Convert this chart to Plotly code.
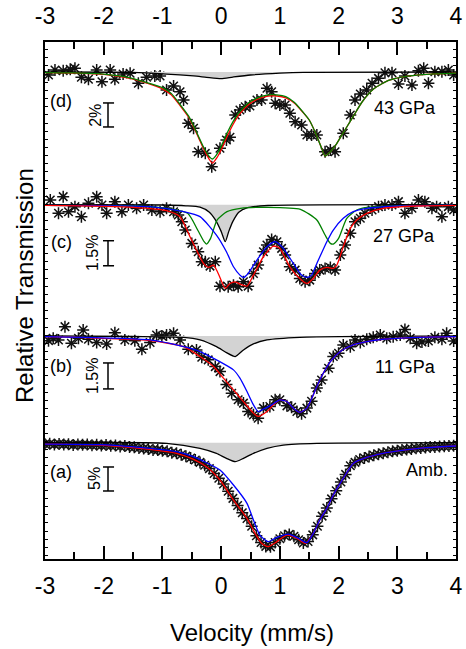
import plotly.graph_objects as go

# ---------------- tick labels ----------------
tick_vals = [-3, -2, -1, 0, 1, 2, 3, 4]
tick_text = ["-3", "-2", "-1", "0", "1", "2", "3", "4"]

# ---------------- panel (d) 43 GPa ----------------
d_pts_v = [-2.94, -2.83, -2.69, -2.57, -2.49, -2.38, -2.26, -2.12, -2.03, -1.89, -1.81, -1.67, -1.55, -1.41,
           -1.27, -1.13, -1.04, -0.93, -0.81, -0.70, -0.64, -0.56, -0.47, -0.39, -0.27, -0.16, -0.02, 0.09,
           0.15, 0.24, 0.32, 0.41, 0.49, 0.61, 0.69, 0.78, 0.86, 0.92, 1.00, 1.09, 1.17, 1.26, 1.37, 1.46,
           1.54, 1.63, 1.77, 1.86, 1.94, 2.08, 2.20, 2.28, 2.37, 2.48, 2.57, 2.68, 2.79, 2.91, 3.02, 3.13,
           3.25, 3.36, 3.45, 3.53, 3.64, 3.76, 3.87, 3.96]
d_pts_t = [99.75, 100.17, 100.11, 100.22, 100.31, 99.56, 99.39, 100.17, 99.19, 100.17, 99.39, 99.83, 99.89,
           99.06, 99.56, 99.67, 99.67, 98.5, 98.83, 98.36, 97.67, 95.72, 95.31, 93.36, 93.22, 92.11, 93.64,
           94.33, 94.56, 96.42, 96.83, 97.11, 97.17, 97.67, 97.67, 98.64, 98.36, 97.39, 97.25, 97.25, 96.56,
           95.86, 95.58, 94.75, 94.75, 94.75, 93.36, 93.5, 93.36, 94.89, 96.42, 97.67, 98.17, 98.5, 99.06,
           99.47, 99.94, 99.94, 99.0, 99.67, 98.92, 100.11, 100.31, 99.06, 100.03, 100.03, 100.17, 99.75]
d_fit_v = [-3.0, -2.5, -2.0, -1.7, -1.5, -1.25, -1.0, -0.85, -0.7, -0.55, -0.4, -0.3, -0.2, -0.15, -0.08,
           0.0, 0.1, 0.2, 0.3, 0.45, 0.6, 0.8, 0.95, 1.1, 1.25, 1.4, 1.5, 1.6, 1.7, 1.77, 1.85, 1.95, 2.05,
           2.15, 2.25, 2.4, 2.6, 2.85, 3.1, 3.5, 4.0]
d_red = [99.94, 99.9, 99.8, 99.6, 99.4, 99.05, 98.6, 98.1, 97.2, 96.2, 94.7, 93.6, 92.7, 92.4, 92.8,
         93.5, 94.6, 95.6, 96.4, 97.2, 97.7, 98.0, 98.0, 97.85, 97.4, 96.6, 96.0, 95.0, 93.8, 93.0, 93.3,
         93.9, 94.7, 95.5, 96.3, 97.5, 98.6, 99.3, 99.6, 99.8, 99.9]
d_green = [99.95, 99.92, 99.83, 99.65, 99.45, 99.1, 98.7, 98.22, 97.3, 96.3, 94.8, 93.75, 92.95, 92.75,
           93.1, 93.8, 94.9, 95.85, 96.6, 97.35, 97.8, 98.1, 98.1, 97.95, 97.45, 96.62, 96.0, 95.0, 93.8,
           93.0, 93.3, 93.9, 94.7, 95.5, 96.3, 97.5, 98.6, 99.3, 99.6, 99.8, 99.9]
d_sub_v = [-3.0, -1.5, -0.93, -0.47, -0.25, 0.0, 0.2, 0.5, 1.0, 1.4, 4.0]
d_sub = [100.0, 99.97, 99.83, 99.67, 99.56, 99.45, 99.58, 99.75, 99.9, 99.97, 100.0]

# ---------------- panel (c) 27 GPa ----------------
c_pts_v = [-2.91, -2.77, -2.69, -2.60, -2.49, -2.38, -2.26, -2.12, -2.03, -1.95, -1.81, -1.69, -1.58, -1.44,
           -1.32, -1.18, -1.04, -0.93, -0.81, -0.73, -0.67, -0.61, -0.50, -0.39, -0.33, -0.27, -0.19, -0.10,
           -0.02, 0.12, 0.21, 0.29, 0.38, 0.46, 0.55, 0.63, 0.72, 0.78, 0.86, 0.95, 1.03, 1.09, 1.17, 1.26,
           1.34, 1.43, 1.51, 1.60, 1.68, 1.77, 1.86, 1.94, 2.03, 2.11, 2.20, 2.28, 2.37, 2.45, 2.57, 2.68,
           2.79, 2.91, 3.02, 3.13, 3.25, 3.36, 3.47, 3.59, 3.67, 3.76, 3.87, 3.96]
c_pts_t = [100.28, 99.48, 100.48, 99.58, 99.88, 99.28, 100.08, 100.48, 99.98, 99.48, 100.18, 99.58, 99.98,
           99.78, 99.98, 99.68, 99.58, 99.78, 99.58, 99.38, 98.98, 98.48, 97.68, 97.18, 96.58, 96.58, 96.32,
           96.58, 95.12, 95.08, 95.18, 95.08, 95.38, 95.12, 95.88, 96.38, 97.18, 97.58, 97.92, 97.78, 97.38,
           96.98, 96.28, 96.08, 95.58, 95.38, 95.48, 95.88, 96.08, 96.18, 96.24, 96.08, 96.98, 97.58, 98.28,
           98.98, 99.18, 99.48, 99.68, 99.88, 99.98, 99.98, 100.18, 99.48, 99.78, 100.28, 100.18, 99.78,
           99.88, 99.28, 99.88, 99.68]
c_red_v = [-3.0, -1.5, -0.93, -0.70, -0.53, -0.42, -0.30, -0.22, -0.13, -0.05, 0.07, 0.15, 0.24, 0.32, 0.44,
           0.55, 0.72, 0.89, 1.00, 1.17, 1.34, 1.46, 1.57, 1.68, 1.80, 1.91, 1.97, 2.08, 2.20, 2.31, 2.48,
           2.76, 3.33, 4.0]
c_red = [99.96, 99.84, 99.64, 99.28, 98.08, 97.28, 96.48, 96.24, 96.38, 95.88, 94.98, 95.28, 95.38, 95.24,
         95.12, 95.78, 96.88, 97.52, 97.38, 96.28, 95.58, 95.28, 95.58, 96.08, 96.24, 96.18, 96.38, 97.48,
         98.58, 99.08, 99.48, 99.78, 99.92, 99.96]
c_green_v = [-3.0, -1.5, -0.93, -0.57, -0.40, -0.29, -0.25, -0.18, -0.07, 0.10, 0.33, 0.78, 1.35, 1.63, 1.77,
             1.86, 1.91, 2.00, 2.14, 2.31, 2.48, 3.0, 4.0]
c_green = [99.96, 99.92, 99.78, 99.48, 98.48, 97.78, 97.64, 97.98, 99.08, 99.58, 99.78, 99.84, 99.72, 99.08,
           98.18, 97.68, 97.64, 97.98, 99.18, 99.68, 99.84, 99.93, 99.97]
c_blue_v = [-3.0, -1.21, -0.64, -0.36, -0.08, 0.09, 0.21, 0.32, 0.38, 0.46, 0.61, 0.78, 0.92, 1.06, 1.23,
            1.37, 1.46, 1.54, 1.63, 1.80, 1.91, 2.08, 2.25, 2.48, 3.05, 4.0]
c_blue = [99.96, 99.88, 99.58, 99.28, 98.18, 97.18, 96.28, 95.78, 95.64, 95.88, 96.68, 97.48, 97.78, 97.38,
          96.48, 95.78, 95.64, 95.78, 96.48, 97.78, 98.48, 99.18, 99.58, 99.78, 99.92, 99.97]
c_sub_v = [-3.0, -1.0, -0.6, -0.36, -0.2, -0.1, 0.0, 0.07, 0.13, 0.2, 0.3, 0.45, 0.8, 4.0]
c_sub = [100.0, 99.98, 99.93, 99.85, 99.55, 99.1, 98.4, 97.78, 98.4, 99.0, 99.55, 99.82, 99.95, 100.0]

# ---------------- panel (b) 11 GPa ----------------
b_pts_v = [-2.94, -2.86, -2.77, -2.66, -2.55, -2.43, -2.35, -2.26, -2.12, -1.95, -1.81, -1.64, -1.47, -1.35,
           -1.21, -1.10, -1.01, -0.93, -0.81, -0.70, -0.56, -0.42, -0.33, -0.22, -0.10, -0.02, 0.09, 0.18,
           0.29, 0.38, 0.46, 0.55, 0.63, 0.72, 0.83, 0.92, 1.00, 1.12, 1.20, 1.29, 1.37, 1.46, 1.54, 1.63,
           1.71, 1.83, 1.91, 2.00, 2.08, 2.20, 2.28, 2.37, 2.48, 2.59, 2.71, 2.82, 2.93, 3.05, 3.13, 3.22,
           3.33, 3.42, 3.53, 3.64, 3.76, 3.84, 3.96]
b_pts_t = [99.73, 99.87, 99.77, 100.54, 99.58, 99.87, 100.35, 99.81, 99.62, 99.54, 100.19, 99.77, 99.73,
           99.23, 99.62, 100.06, 100.0, 100.06, 100.15, 99.77, 99.23, 99.19, 98.77, 98.62, 98.23, 97.94,
           97.19, 96.69, 96.31, 96.12, 95.63, 95.44, 95.25, 95.83, 95.92, 96.31, 96.31, 95.96, 95.88, 95.63,
           95.50, 95.83, 96.23, 97.0, 97.46, 98.13, 98.81, 99.0, 99.48, 99.38, 99.77, 99.62, 99.81, 99.92,
           100.06, 99.87, 99.96, 100.06, 100.38, 99.87, 99.58, 99.65, 99.71, 99.92, 99.81, 100.15, 99.71]
b_red_v = [-3.0, -1.21, -0.64, -0.36, -0.13, 0.04, 0.21, 0.38, 0.55, 0.63, 0.78, 0.89, 1.00, 1.12, 1.23,
           1.34, 1.46, 1.57, 1.68, 1.86, 2.03, 2.25, 2.48, 2.76, 3.33, 4.0]
b_red = [99.96, 99.73, 99.38, 98.81, 98.23, 97.56, 96.88, 96.21, 95.54, 95.35, 95.63, 96.02, 96.31, 96.21,
         95.83, 95.58, 95.83, 96.60, 97.46, 98.52, 99.10, 99.48, 99.67, 99.81, 99.92, 99.96]
b_blue_v = [-3.0, -1.21, -0.64, -0.36, -0.08, 0.21, 0.32, 0.44, 0.55, 0.63, 0.72, 0.86, 1.00, 1.12, 1.23,
            1.34, 1.46, 1.57, 1.68, 1.86, 2.03, 2.25, 2.48, 2.76, 3.33, 4.0]
b_blue = [99.96, 99.77, 99.38, 99.10, 98.62, 98.04, 97.56, 96.79, 96.02, 95.63, 95.77, 96.02, 96.31, 96.21,
          95.83, 95.58, 95.83, 96.60, 97.46, 98.52, 99.10, 99.48, 99.67, 99.81, 99.92, 99.96]
b_sub_v = [-3.0, -1.5, -0.64, -0.36, -0.08, 0.09, 0.24, 0.38, 0.55, 0.78, 1.34, 4.0]
b_sub = [100.0, 99.97, 99.92, 99.77, 99.38, 99.04, 98.81, 99.19, 99.54, 99.77, 99.92, 100.0]

# ---------------- panel (a) ambient ----------------
a_pts_v = [-3.0, -2.92, -2.84, -2.76, -2.68, -2.6, -2.52, -2.44, -2.36, -2.28, -2.2, -2.12, -2.04, -1.96,
           -1.88, -1.8, -1.72, -1.64, -1.56, -1.48, -1.4, -1.32, -1.24, -1.16, -1.08, -1.0, -0.92, -0.84,
           -0.76, -0.68, -0.6, -0.52, -0.44, -0.36, -0.28, -0.2, -0.12, -0.04, 0.04, 0.12, 0.2, 0.28, 0.36,
           0.44, 0.52, 0.6, 0.68, 0.76, 0.84, 0.92, 1.0, 1.08, 1.16, 1.24, 1.32, 1.4, 1.48, 1.56, 1.64, 1.72,
           1.8, 1.88, 1.96, 2.04, 2.12, 2.2, 2.28, 2.36, 2.44, 2.52, 2.6, 2.68, 2.76, 2.84, 2.92, 3.0, 3.08,
           3.16, 3.24, 3.32, 3.4, 3.48, 3.56, 3.64, 3.72, 3.8, 3.88, 3.96]
a_pts_t = [99.7, 99.8, 99.6, 99.75, 99.65, 99.7, 99.5, 99.65, 99.55, 99.6, 99.45, 99.55, 99.4, 99.5, 99.35,
           99.4, 99.2, 99.3, 99.1, 99.05, 98.9, 98.8, 98.7, 98.5, 98.5, 98.3, 98.2, 97.9, 97.8, 97.5, 97.2,
           96.8, 96.4, 95.9, 95.3, 94.6, 93.6, 92.6, 91.4, 89.9, 88.4, 86.9, 85.4, 84.2, 82.6, 80.6, 79.2,
           78.4, 78.3, 79.2, 80.0, 80.6, 80.9, 80.5, 79.8, 79.1, 79.4, 80.8, 82.6, 84.7, 86.4, 88.3, 90.0,
           91.8, 93.4, 95.2, 95.9, 96.5, 96.8, 97.1, 97.4, 97.6, 97.8, 98.0, 98.2, 98.3, 98.5, 98.6, 98.7,
           98.85, 98.9, 99.0, 99.1, 99.1, 99.2, 99.25, 99.3, 99.35]
a_red_v = [-3.0, -2.06, -1.21, -0.76, -0.47, -0.25, -0.02, 0.21, 0.44, 0.58, 0.69, 0.80, 0.95, 1.12, 1.29,
           1.43, 1.57, 1.68, 1.80, 1.91, 2.08, 2.25, 2.48, 2.76, 3.05, 3.50, 4.0]
a_red = [99.72, 99.51, 98.61, 97.78, 96.53, 95.0, 92.22, 88.06, 84.24, 81.11, 79.03, 78.33, 79.38, 80.76,
         80.07, 79.03, 81.11, 83.89, 86.32, 89.10, 92.57, 95.69, 96.94, 97.78, 98.33, 98.96, 99.31]
a_blue_v = [-3.0, -2.06, -1.21, -0.76, -0.47, -0.25, -0.02, 0.21, 0.44, 0.55, 0.66, 0.80, 0.95, 1.15, 1.32,
            1.46, 1.57, 1.68, 1.80, 1.91, 2.08, 2.25, 2.48, 2.76, 3.05, 3.50, 4.0]
a_blue = [99.72, 99.58, 98.82, 98.13, 97.08, 95.83, 94.31, 91.18, 87.36, 83.89, 80.76, 79.38, 80.28, 80.97,
          80.07, 79.17, 81.11, 83.89, 86.32, 89.10, 92.57, 95.69, 96.94, 97.78, 98.33, 98.96, 99.31]
a_sub_v = [-3.0, -0.93, -0.36, -0.08, 0.09, 0.24, 0.38, 0.55, 0.78, 1.06, 1.63, 4.0]
a_sub = [100.0, 99.86, 98.82, 97.78, 96.74, 96.04, 96.74, 97.78, 98.82, 99.51, 99.86, 100.0]

# ---------------- figure ----------------
RED, GREEN, BLUE = "#ff0000", "#008000", "#0000ff"
FONT = "Liberation Sans, Arial, sans-serif"

fig = go.Figure()


def add_panel(yref, pv, pt, sub_v, sub_t, curves):
    fig.add_trace(go.Scatter(x=pv, y=pt, mode="markers", yaxis=yref, showlegend=False,
                             marker=dict(symbol="asterisk-open", size=10, color="#111111",
                                         line=dict(width=1.5, color="#111111"))))
    fig.add_trace(go.Scatter(x=sub_v, y=sub_t, mode="lines", yaxis=yref, showlegend=False,
                             fill="toself", fillcolor="#d3d3d3",
                             line=dict(color="black", width=1.3, shape="spline", smoothing=0.6)))
    for cv, ct, col in curves:
        fig.add_trace(go.Scatter(x=cv, y=ct, mode="lines", yaxis=yref, showlegend=False,
                                 line=dict(color=col, width=1.3, shape="spline", smoothing=0.6)))


add_panel("y4", d_pts_v, d_pts_t, d_sub_v, d_sub, [(d_fit_v, d_red, RED), (d_fit_v, d_green, GREEN)])
add_panel("y3", c_pts_v, c_pts_t, c_sub_v, c_sub,
          [(c_green_v, c_green, GREEN), (c_blue_v, c_blue, BLUE), (c_red_v, c_red, RED)])
add_panel("y2", b_pts_v, b_pts_t, b_sub_v, b_sub, [(b_red_v, b_red, RED), (b_blue_v, b_blue, BLUE)])
add_panel("y", a_pts_v, a_pts_t, a_sub_v, a_sub, [(a_red_v, a_red, RED), (a_blue_v, a_blue, BLUE)])

# invisible trace for the top axis
fig.add_trace(go.Scatter(x=[-3, 4], y=[100, 100], xaxis="x2", mode="lines",
                         line=dict(width=0), hoverinfo="skip", showlegend=False))

xcommon = dict(range=[-3, 4], tickvals=tick_vals, ticktext=tick_text, ticks="inside", ticklen=13,
               tickwidth=2, tickcolor="black", showgrid=False, zeroline=False, automargin=False,
               tickfont=dict(family=FONT, size=23, color="black"),
               minor=dict(tickvals=[-2.5, -1.5, -0.5, 0.5, 1.5, 2.5, 3.5], ticks="inside", ticklen=7,
                          tickwidth=1.5, tickcolor="black"))

fig.update_layout(
    width=466, height=649,
    margin=dict(l=45, r=10, t=42, b=90, autoexpand=False),
    plot_bgcolor="white", paper_bgcolor="white",
    xaxis=dict(**xcommon, showline=True, linewidth=2, linecolor="black", mirror=True,
               ticklabelstandoff=5),
    xaxis2=dict(**xcommon, overlaying="x", side="top", anchor="y", showline=False,
                ticklabelstandoff=12),
    yaxis=dict(range=[75.77, 183.48], showticklabels=False, showgrid=False, zeroline=False,
               showline=True, linewidth=2, linecolor="black", mirror="ticks", automargin=False,
               ticks="inside", ticklen=3, tickwidth=1, tickcolor="black", dtick=1.7),
    yaxis2=dict(range=[87.11, 116.99], overlaying="y", visible=False),
    yaxis3=dict(range=[78.78, 109.74], overlaying="y", visible=False),
    yaxis4=dict(range=[59.42, 102.5], overlaying="y", visible=False),
)

# scale bars (exact percentages in each panel's own axis)
bars = [("y4", 97.42, 2.0), ("y3", 97.84, 1.5), ("y2", 98.44, 1.5), ("y", 94.94, 5.0)]
for yr, top, span in bars:
    fig.add_shape(type="line", xref="x", yref=yr, x0=-1.927, x1=-1.927, y0=top, y1=top - span,
                  line=dict(color="black", width=1.5))
    for yy in (top, top - span):
        fig.add_shape(type="line", xref="x", yref=yr, x0=-2.012, x1=-1.824, y0=yy, y1=yy,
                      line=dict(color="black", width=1.5))

labels = [
    ("(d)", 0.039, 0.886), ("43 GPa", 0.876, 0.872),
    ("(c)", 0.039, 0.613), ("27 GPa", 0.873, 0.625),
    ("(b)", 0.039, 0.373), ("11 GPa", 0.876, 0.371),
    ("(a)", 0.039, 0.168), ("Amb.", 0.929, 0.172),
]
for txt, x, y in labels:
    fig.add_annotation(text=txt, x=x, y=y, xref="paper", yref="paper", showarrow=False,
                       xanchor="center", yanchor="middle",
                       font=dict(family=FONT, size=18, color="black"))

bar_labels = [("2%", 0.124, 0.859), ("1.5%", 0.117, 0.592), ("1.5%", 0.117, 0.354), ("5%", 0.122, 0.155)]
for txt, x, y in bar_labels:
    fig.add_annotation(text=txt, x=x, y=y, xref="paper", yref="paper", showarrow=False,
                       textangle=-90, xanchor="center", yanchor="middle",
                       font=dict(family=FONT, size=16, color="black"))

fig.add_annotation(text="Relative Transmission", x=-0.0487, y=0.530, xref="paper", yref="paper",
                   showarrow=False, textangle=-90, xanchor="center", yanchor="middle",
                   font=dict(family=FONT, size=24, color="black"))
fig.add_annotation(text="Velocity (mm/s)", x=0.504, y=-0.143, xref="paper", yref="paper",
                   showarrow=False, xanchor="center", yanchor="middle",
                   font=dict(family=FONT, size=24, color="black"))

fig.write_html("out.html")
